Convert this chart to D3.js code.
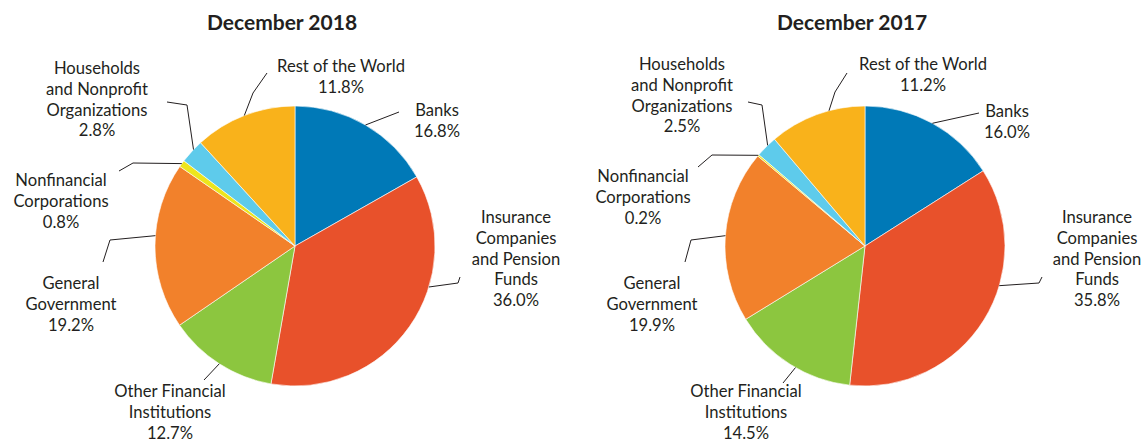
<!DOCTYPE html>
<html>
<head>
<meta charset="utf-8">
<script src="https://cdn.jsdelivr.net/npm/d3@7"></script>
<style>
  body { margin: 0; background: #fff; }
  svg { display: block; font-family: Lato, 'Open Sans', sans-serif; }
  .title { font-weight: bold; font-size: 21px; fill: #231f20; }
  .lbl { font-size: 16.6px; fill: #231f20; }
  .leader { fill: none; stroke: #231f20; stroke-width: 1; }
</style>
</head>
<body>
<svg id="chart" width="1142" height="444"></svg>
<script>
//Categories, in clockwise order from 12 o'clock
const categories = ['Banks', 'Insurance Companies and Pension Funds', 'Other Financial Institutions',
  'General Government', 'Nonfinancial Corporations', 'Households and Nonprofit Organizations', 'Rest of the World'];
//Label text broken into lines (the % goes on its own line below)
const labelLines = [
  ['Banks'],
  ['Insurance', 'Companies', 'and Pension', 'Funds'],
  ['Other Financial', 'Institutions'],
  ['General', 'Government'],
  ['Nonfinancial', 'Corporations'],
  ['Households', 'and Nonprofit', 'Organizations'],
  ['Rest of the World']
];
const shares2018 = [16.8, 36.0, 12.7, 19.2, 0.8, 2.8, 11.8];
const shares2017 = [16.0, 35.8, 14.5, 19.9, 0.2, 2.5, 11.2];
const colors = ['#0079b7', '#e8512b', '#8cc63f', '#f2812b', '#ede51c', '#5ecbeb', '#f9b21b'];

const svg = d3.select('#chart');
const radius = 140;
const lineH = 20.8;

//label placement, relative to pie center (t = where on the slice the leader starts)
const layout2018 = [
  { tx: 142, ty: -130, t: 0.5, pts: [[104, -134]] },
  { tx: 221, ty: -23, t: 0.36, pts: [[163, 37], [165, 31]] },
  { tx: -125, ty: 151, t: 0.5, pts: [[-91, 134]] },
  { tx: -224, ty: 43, t: 0.56, pts: [[-185, -6], [-192, 16]] },
  { tx: -234, ty: -60, t: 0.5, pts: [[-162, -83], [-176, -75]] },
  { tx: -198, ty: -172, t: 0.6, pts: [[-108, -141], [-128, -144]] },
  { tx: 46, ty: -174, t: 0.5, pts: [[-42, -153], [-28, -173]] }
];
const layout2017 = [
  { tx: 142, ty: -129, t: 0.5, pts: [[114, -133]] },
  { tx: 232, ty: -23, t: 0.38, pts: [[174, 37], [177, 31]] },
  { tx: -119, ty: 151, t: 0.45, pts: [[-82, 137]] },
  { tx: -213, ty: 43, t: 0.5, pts: [[-174, -6], [-180, 16]] },
  { tx: -222, ty: -64, t: 0.5, pts: [[-153, -91], [-167, -79]] },
  { tx: -183, ty: -176, t: 0.58, pts: [[-103, -141], [-117, -144]] },
  { tx: 58, ty: -176, t: 0.63, pts: [[-30, -154], [-18, -173]] }
];

const pie = d3.pie().sort(null).value(d => d);
const arc = d3.arc().innerRadius(0).outerRadius(radius);

const drawPie = (title, shares, layout, cx, cy) => {
  const g = svg.append('g').attr('transform', `translate(${cx},${cy})`);

  g.append('text')
    .attr('class', 'title')
    .attr('x', -13)
    .attr('y', -216)
    .attr('text-anchor', 'middle')
    .text(title);

  const arcs = pie(shares);

  g.selectAll('path.slice').data(arcs)
    .enter().append('path')
      .attr('class', 'slice')
      .attr('d', arc)
      .attr('fill', (d, i) => colors[i])
      .attr('stroke', '#fff')
      .attr('stroke-width', 0.6);

  //leader lines: start on the rim, then through the layout points
  g.selectAll('path.leader').data(arcs)
    .enter().append('path')
      .attr('class', 'leader')
      .attr('d', (d, i) => {
        const L = layout[i];
        const a = d.startAngle + L.t * (d.endAngle - d.startAngle);
        const p0 = [radius * Math.sin(a), -radius * Math.cos(a)];
        return d3.line()([p0].concat(L.pts));
      });

  arcs.forEach((d, i) => {
    const L = layout[i];
    const lines = labelLines[i].concat([d3.format('.1f')(d.data) + '%']);
    const txt = g.append('text')
      .attr('class', 'lbl')
      .attr('text-anchor', 'middle');
    lines.forEach((s, k) => {
      txt.append('tspan')
        .attr('x', L.tx)
        .attr('y', L.ty + k * lineH)
        .text(s);
    });
  });
};

drawPie('December 2018', shares2018, layout2018, 295, 246);
drawPie('December 2017', shares2017, layout2017, 865, 246);
</script>
</body>
</html>
